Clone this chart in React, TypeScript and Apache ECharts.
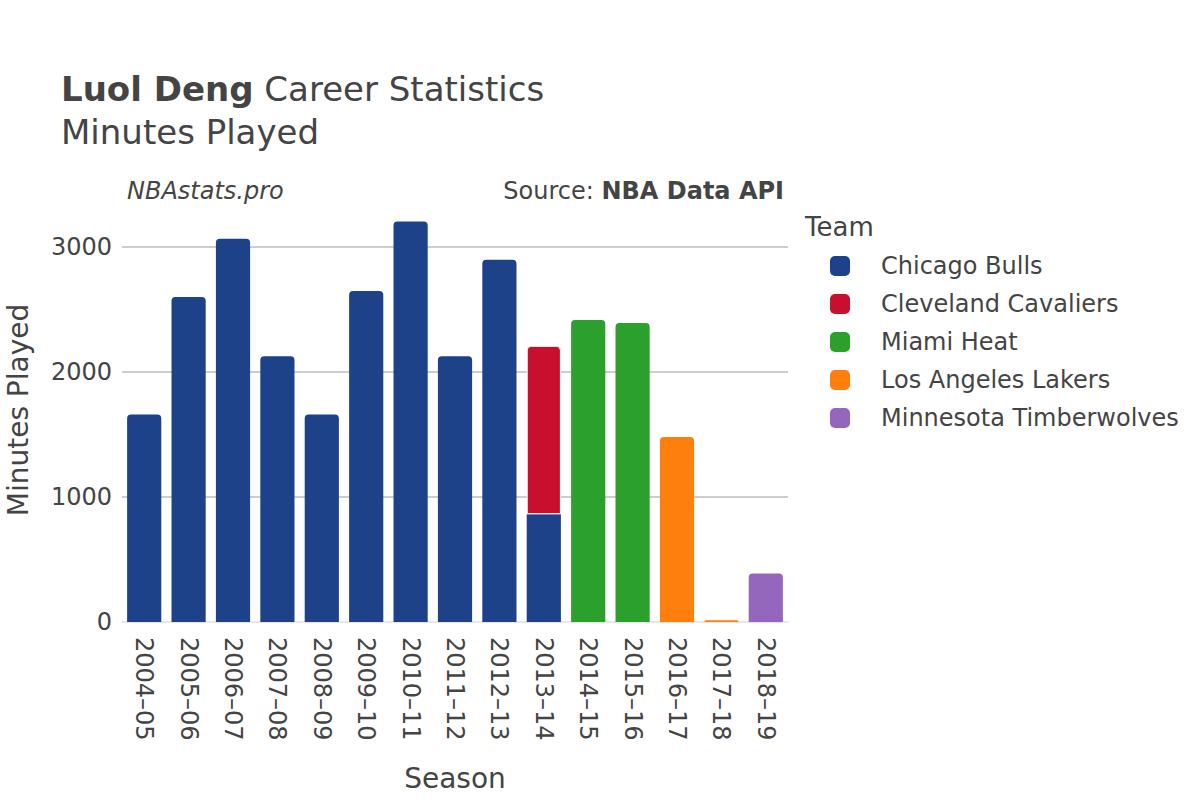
import React, { useEffect, useRef } from "react";
import * as echarts from "echarts";

const seasons = [
  "2004–05", "2005–06", "2006–07", "2007–08", "2008–09", "2009–10", "2010–11",
  "2011–12", "2012–13", "2013–14", "2014–15", "2015–16", "2016–17", "2017–18", "2018–19",
];
const teams = ["Chicago Bulls", "Cleveland Cavaliers", "Miami Heat", "Los Angeles Lakers", "Minnesota Timberwolves"];
const teamColors = ["#1D428A", "#C8102E", "#2CA02C", "#FF7F0E", "#9467BD"];
const bulls = [1659, 2598, 3064, 2125, 1659, 2646, 3203, 2125, 2896, 862, null, null, null, null, null];
const cavs = [null, null, null, null, null, null, null, null, null, 1346, null, null, null, null, null];
const heat = [null, null, null, null, null, null, null, null, null, null, 2414, 2390, null, null, null];
const lakers = [null, null, null, null, null, null, null, null, null, null, null, null, 1480, 13, null];
const wolves = [null, null, null, null, null, null, null, null, null, null, null, null, null, null, 387];
const yTicks = [0, 1000, 2000, 3000];

const FONT = "DejaVu Sans";
const TXT = "#444";

export default function App() {
  const ref = useRef<HTMLDivElement>(null);
  useEffect(() => {
    if (!ref.current) return;
    const chart = echarts.init(ref.current, null, { renderer: "svg" });
    const seriesData = [bulls, cavs, heat, lakers, wolves];
    const series = teams.map((name, i) => ({
      name,
      type: "bar",
      stack: "total",
      barCategoryGap: "23%",
      itemStyle: { color: teamColors[i], borderRadius: [4, 4, 0, 0] },
      data: seriesData[i].map((v, j) => {
        if (v === null) return null;
        const coveredAbove = seriesData.slice(i + 1).some((s) => s[j] !== null);
        if (coveredAbove) return { value: v, itemStyle: { borderRadius: 0 } };
        const hasBelow = seriesData.slice(0, i).some((s) => s[j] !== null);
        if (hasBelow) return { value: v, itemStyle: { borderColor: "#fff", borderWidth: 1 } };
        return v;
      }),
    }));
    chart.setOption({
      animation: false,
      textStyle: { fontFamily: FONT, color: TXT },
      title: {
        left: 61,
        top: 67,
        padding: 0,
        text: "{b|Luol Deng}{n| Career Statistics}\n{n|Minutes Played}",
        textStyle: {
          fontWeight: "normal",
          rich: {
            b: { fontFamily: FONT, fontSize: 34, fontWeight: "bold", color: TXT, lineHeight: 43 },
            n: { fontFamily: FONT, fontSize: 34, fontWeight: "normal", color: TXT, lineHeight: 43 },
          },
        },
      },
      grid: { left: 122, right: 412, top: 200, bottom: 178, containLabel: false },
      xAxis: {
        type: "category",
        data: seasons,
        axisTick: { show: false },
        axisLine: { show: true, lineStyle: { color: "#e8e8e8", width: 2 } },
        axisLabel: { rotate: -90, fontSize: 24, color: TXT, fontFamily: FONT, margin: 15 },
      },
      yAxis: {
        type: "value",
        min: yTicks[0],
        max: 3374,
        interval: 1000,
        axisLine: { show: false },
        axisTick: { show: false },
        axisLabel: {
          fontSize: 24,
          color: TXT,
          fontFamily: FONT,
          margin: 10,
          showMaxLabel: false,
          formatter: (v: number) => (yTicks.includes(v) ? String(v) : ""),
        },
        splitLine: { show: true, showMaxLine: false, lineStyle: { color: "#bdbdbd", width: 1.5 } },
      },
      legend: {
        orient: "vertical",
        left: 830,
        top: 254,
        padding: 0,
        itemWidth: 20,
        itemHeight: 20,
        itemGap: 14,
        icon: "roundRect",
        data: teams,
        textStyle: { fontSize: 24, color: TXT, fontFamily: FONT, padding: [0, 0, 0, 26] },
      },
      graphic: [
        { type: "text", left: 805, top: 214, style: { text: "Team", fontSize: 26, fill: TXT, fontFamily: FONT } },
        {
          type: "text", x: 127, y: 191,
          style: { text: "NBAstats.pro", fontSize: 24, fontStyle: "italic", fill: TXT, fontFamily: FONT, textVerticalAlign: "middle" },
        },
        {
          type: "text", x: 784, y: 191,
          style: {
            text: "{n|Source: }{b|NBA Data API}",
            align: "right",
            textAlign: "right",
            textVerticalAlign: "middle",
            rich: {
              n: { fontSize: 24, fill: TXT, fontFamily: FONT },
              b: { fontSize: 24, fill: TXT, fontFamily: FONT, fontWeight: "bold" },
            },
          },
        },
        {
          type: "text", x: 18, y: 410, rotation: Math.PI / 2,
          style: { text: "Minutes Played", fontSize: 28, fill: TXT, fontFamily: FONT, textAlign: "center", textVerticalAlign: "middle" },
        },
        {
          type: "text", x: 455, y: 778,
          style: { text: "Season", fontSize: 28, fill: TXT, fontFamily: FONT, textAlign: "center", textVerticalAlign: "middle" },
        },
      ],
      series,
    });
    return () => chart.dispose();
  }, []);
  return <div ref={ref} style={{ width: 1200, height: 800, position: "absolute", left: 0, top: 0 }} />;
}
